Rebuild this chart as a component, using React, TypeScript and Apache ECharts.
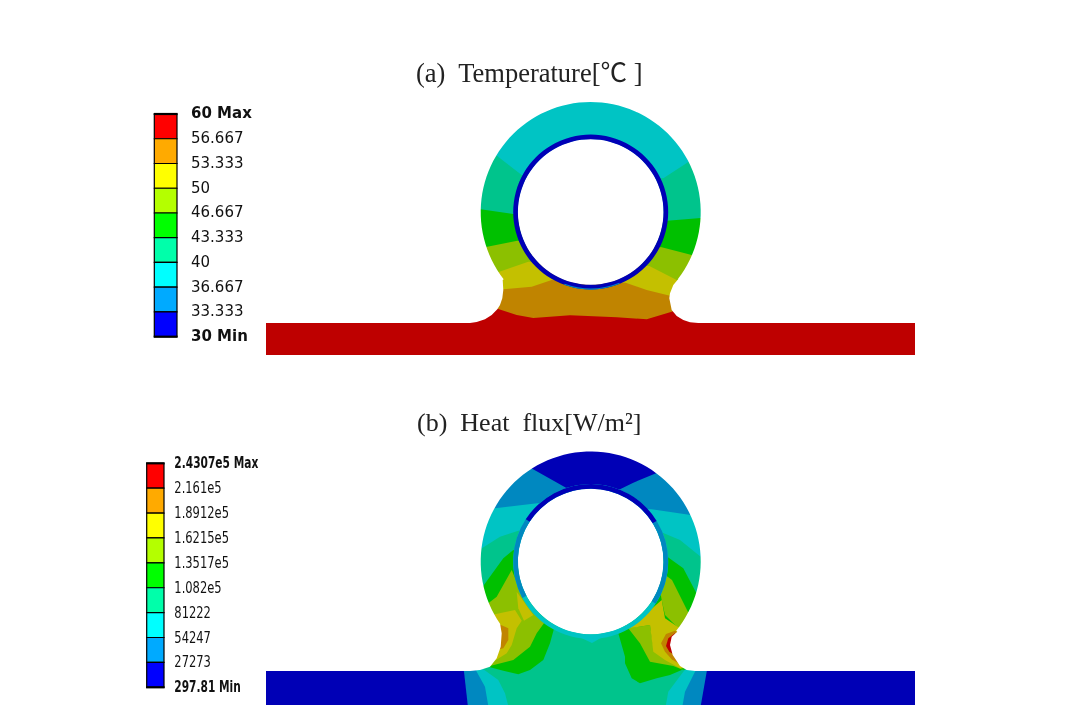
import React, { useEffect, useRef } from "react";
import * as echarts from "echarts";

type P = [number, number];

const contourPalette = ["#0000B6", "#0088C0", "#00C4C4", "#00C48C", "#00C000", "#8CC000", "#C4C000", "#C08400", "#BE0000"];
const legendPalette = ["#FF0000", "#FFAA00", "#FFFF00", "#B4FF00", "#00FF00", "#00FFAA", "#00FFFF", "#00AAFF", "#0000FF"];
const NAVY = 0, BLUE = 1, CYAN = 2, SEA = 3, GREEN = 4, LIME = 5, YEL = 6, ORG = 7, RED = 8;

const tempTicks = ["60 Max", "56.667", "53.333", "50", "46.667", "43.333", "40", "36.667", "33.333", "30 Min"];
const fluxTicks = ["2.4307e5 Max", "2.161e5", "1.8912e5", "1.6215e5", "1.3517e5", "1.082e5", "81222", "54247", "27273", "297.81 Min"];

// ---- panel (a): upper edge of every temperature band
const tCyanEdge: P[] = [[470, 135], [521.7, 175], [663.3, 178.3], [713, 146]];
const tSeaEdge: P[] = [[470, 208], [480.7, 209.3], [513.3, 214], [667.3, 220.7], [700.7, 218], [711, 217]];
const tGreenEdge: P[] = [[470, 250], [487.3, 246.7], [517.3, 240.7], [661.7, 247.3], [691.7, 255], [710, 260]];
const tLimeEdge: P[] = [[480, 278], [499.3, 271.7], [528.3, 261.7], [649.3, 266], [676.7, 280], [695, 290]];
const tYellowEdge: P[] = [[480, 291], [503.3, 289.3], [531.7, 286.7], [551.7, 280], [625.7, 282.7], [646.7, 290], [670, 295.7], [690, 300]];
const tRedEdge: P[] = [[262, 300], [480, 300], [498.3, 309], [516.7, 315], [533.3, 318], [570, 315.3], [616.7, 317.3], [646.7, 319.3], [671.7, 311.7], [700, 300], [918, 300]];

const aCentre: P = [590.7, 212];
const aRightNeck: P[] = [[698.3, 323], [690, 322.3], [683.3, 320], [676.7, 316], [671.7, 310], [669.3, 298.3], [670, 293.3], [673.3, 285], [678.3, 279]];
const aLeftNeck: P[] = [[502.7, 280], [503.3, 290], [502.3, 298.3], [500, 305], [497.3, 309.3], [491.7, 315], [485, 319.3], [476.7, 322], [470, 323]];

// ---- panel (b): heat-flux regions
const bCentre: P = [590.7, 561.5];
const fCyanEdge: P[] = [[470, 511], [495, 508.3], [537.3, 503.3], [651.7, 509.3], [690.7, 515], [712, 518]];
const fSeaEdge: P[] = [[470, 556], [480.7, 549], [500, 536.7], [518.3, 530.7], [662.7, 532.7], [680, 540], [700.7, 556.7], [712, 566]];
const fCap: P[] = [[516.7, 460], [566, 487.7], [620, 489.3], [633.3, 482.7], [656, 473.3], [670, 465], [640, 445], [540, 445]];
const fLeftCyan: P[] = [[262, 660], [480, 666], [483.3, 669.3], [498.3, 680], [505, 693.3], [509.3, 710], [262, 710]];
const fLeftBlue: P[] = [[262, 660], [474, 664], [476.7, 671.7], [485, 686.7], [489, 710], [262, 710]];
const fLeftNavy: P[] = [[262, 660], [462, 664], [464, 671.7], [468.3, 710], [262, 710]];
const fRightCyan: P[] = [[918, 660], [690, 664], [683.3, 671.7], [668.3, 691.7], [665, 710], [918, 710]];
const fRightBlue: P[] = [[918, 660], [698, 664], [695, 671.7], [685, 691.7], [681.7, 710], [918, 710]];
const fRightNavy: P[] = [[918, 660], [708, 664], [706.7, 671.7], [700, 710], [918, 710]];
const fLeftGreen: P[] = [[476.7, 595], [503.3, 558.3], [513.3, 550], [526.7, 560], [560, 620], [555, 625], [550, 643.3], [543.3, 660], [530, 670], [518.3, 674.3], [503.3, 670.7], [488.3, 666.7], [476.7, 660]];
const fLeftLime: P[] = [[511.7, 570], [520, 590], [545, 621.7], [536.7, 633.3], [530, 646.7], [513.3, 660], [490, 666], [483.3, 668.3], [480, 640], [483.3, 610], [488.3, 603.3], [496.7, 596.7]];
const fLeftYellow: P[] = [[486.7, 616.7], [496, 614], [515, 610], [521.7, 620.7], [516.7, 628.3], [511.7, 645], [506.7, 653.3], [493.3, 661.7], [486.7, 666.7], [480, 640]];
const fLeftPatch: P[] = [[516.7, 591.7], [533.3, 615], [524, 620.7], [518.3, 608.3]];
const fLeftOrange: P[] = [[499.3, 624.3], [508.3, 628.3], [508.3, 640], [503.3, 648.3], [496.7, 650], [495, 626.7]];
const fRightGreen: P[] = [[656, 550], [667.3, 556.7], [683.3, 568.3], [698.3, 596.7], [710, 615], [710, 665], [681.7, 670], [670, 675], [656.7, 678.3], [640, 683.3], [631.7, 678.3], [625, 663.3], [625, 656.7], [618.3, 633.3], [630, 620]];
const fRightLime: P[] = [[664, 574], [672, 580], [688, 612], [700, 620], [680, 632], [678.3, 628.3], [665, 615], [661.7, 600], [660, 590]];
const fRightLimeLow: P[] = [[628.3, 628.3], [650, 625], [653.3, 646.7], [666.7, 656.7], [683.3, 670], [673.3, 666], [650, 661.7], [640, 643.3]];
const fRightYellow: P[] = [[629.3, 628.3], [661.7, 600], [665, 618.3], [678.3, 627.3], [700, 630], [700, 668], [680, 668.3], [665, 660], [653.3, 651.7], [650, 625]];
const fRightOrange: P[] = [[661, 643.3], [666, 634], [675, 630.7], [680, 633.3], [678.3, 663.3], [671.7, 659.3], [665, 651.7]];
const fRightRed: P[] = [[666, 646], [668.3, 638.3], [675, 633.3], [675, 655], [669.3, 651.7]];
const fNotch: P[] = [[575, 635], [592, 643], [606, 635]];
const bRightNeck: P[] = [[695, 671], [686.7, 670], [680, 666], [672.7, 655], [670, 645], [671.7, 636.7], [677.3, 631.7]];
const bLeftNeck: P[] = [[500, 623.3], [501.7, 633.3], [500.7, 646.7], [496.7, 658.3], [490, 666.7], [480, 670], [470, 671]];

// ---- ring pieces: [colour level, from degree, to degree]
const aRing: [number, number, number][] = [[NAVY, 0, 360]];
const bRing: [number, number, number][] = [[CYAN, 0, 360], [BLUE, 147, 208], [BLUE, -33, 31.6], [NAVY, 31.6, 147]];

const arcPts = (c: P, r: number, a0: number, a1: number): P[] => {
  const out: P[] = [];
  const n = Math.ceil(Math.abs(a1 - a0) / 3);
  for (let i = 0; i <= n; i++) {
    const a = ((a0 + ((a1 - a0) * i) / n) * Math.PI) / 180;
    out.push([c[0] + r * Math.cos(a), c[1] - r * Math.sin(a)]);
  }
  return out;
};

const below = (edge: P[], bottom: number): P[] => [...edge, [edge[edge.length - 1][0], bottom], [edge[0][0], bottom]];

const mask = (top: number, plateTop: number, plateBottom: number, c: P, a0: number, a1: number, right: P[], left: P[]): P[] => {
  const low = plateBottom + 9;
  return [
    [260, top], [920, top], [920, low], [590, low], [590, plateBottom],
    [915, plateBottom], [915, plateTop], ...right, ...arcPts(c, 110, a0, a1), ...left,
    [266, plateTop], [266, plateBottom], [590, plateBottom], [590, low], [260, low],
  ];
};

type Mark =
  | { kind: "poly"; fill: string; pts: P[] }
  | { kind: "disc"; fill: string; c: P; r: number }
  | { kind: "arc"; fill: string; c: P; r0: number; r: number; a0: number; a1: number };

const poly = (level: number, pts: P[]): Mark => ({ kind: "poly", fill: contourPalette[level], pts });

const ringMarks = (c: P, ring: [number, number, number][]): Mark[] => [
  { kind: "disc", fill: "#FFFFFF", c, r: 73 },
  ...ring.map(([l, a0, a1]): Mark => ({ kind: "arc", fill: contourPalette[l], c, r0: 72.8, r: 77.5, a0, a1 })),
];

const marks: Mark[] = [
  poly(CYAN, [[470, 95], [715, 95], [715, 358], [470, 358]]),
  poly(SEA, below(tCyanEdge, 358)),
  poly(GREEN, below(tSeaEdge, 358)),
  poly(LIME, below(tGreenEdge, 358)),
  poly(YEL, below(tLimeEdge, 358)),
  poly(ORG, below(tYellowEdge, 358)),
  poly(RED, below(tRedEdge, 358)),
  { kind: "poly", fill: "#FFFFFF", pts: mask(95, 323, 355, aCentre, -37.4, 217.7, aRightNeck, aLeftNeck) },
  ...ringMarks(aCentre, aRing),
  { kind: "arc", fill: contourPalette[BLUE], c: aCentre, r0: 76.3, r: 77.5, a0: 250, a1: 292 },

  poly(BLUE, [[470, 445], [715, 445], [715, 600], [470, 600]]),
  poly(CYAN, below(fCyanEdge, 710)),
  poly(SEA, below(fSeaEdge, 710)),
  poly(CYAN, fLeftCyan), poly(BLUE, fLeftBlue), poly(NAVY, fLeftNavy),
  poly(CYAN, fRightCyan), poly(BLUE, fRightBlue), poly(NAVY, fRightNavy),
  poly(NAVY, fCap),
  poly(GREEN, fLeftGreen), poly(LIME, fLeftLime), poly(YEL, fLeftYellow), poly(YEL, fLeftPatch), poly(ORG, fLeftOrange),
  poly(GREEN, fRightGreen), poly(LIME, fRightLime), poly(LIME, fRightLimeLow), poly(YEL, fRightYellow), poly(ORG, fRightOrange), poly(RED, fRightRed),
  poly(CYAN, fNotch),
  { kind: "poly", fill: "#FFFFFF", pts: mask(445, 671, 705, bCentre, -39, 214.5, bRightNeck, bLeftNeck) },
  ...ringMarks(bCentre, bRing),
];

const legends = [
  { x0: 154.3, x1: 177, top: 114, bottom: 336.7, textX: 191, labels: tempTicks, scaleX: 1, boldScaleX: 1, size: 15 },
  { x0: 146.7, x1: 164, top: 463.3, bottom: 687.3, textX: 174.3, labels: fluxTicks, scaleX: 0.72, boldScaleX: 0.665, size: 16 },
];

const serif = "'Liberation Serif','Noto Sans CJK KR',serif";

export default function App() {
  const ref = useRef<HTMLDivElement>(null);
  useEffect(() => {
    if (!ref.current) return;
    const chart = echarts.init(ref.current, undefined, { renderer: "svg" });
    const legendItems: { legend: number; i: number }[] = [];
    legends.forEach((l, li) => l.labels.forEach((_, i) => legendItems.push({ legend: li, i })));
    chart.setOption({
      animation: false,
      title: [
        { text: "(a)  Temperature[℃ ]", left: 411, top: 55, textStyle: { fontFamily: serif, fontWeight: "normal", fontSize: 26.5, color: "#222222" } },
        { text: "(b)  Heat  flux[W/m²]", left: 412, top: 404, textStyle: { fontFamily: serif, fontWeight: "normal", fontSize: 26, color: "#222222" } },
      ],
      grid: { left: 0, right: 0, top: 0, bottom: 0 },
      xAxis: { type: "value", min: 0, max: 1073, show: false },
      yAxis: { type: "value", min: 0, max: 716, inverse: true, show: false },
      series: [
        {
          type: "custom",
          silent: true,
          clip: false,
          data: marks.map((_, i) => [0, 0, i]),
          renderItem: (_: any, api: any) => {
            const m = marks[api.value(2)];
            if (m.kind === "poly") {
              return { type: "polygon", shape: { points: m.pts.map((p) => api.coord(p)) }, style: { fill: m.fill } };
            }
            const c = api.coord(m.c);
            const r = api.size([m.r, m.r])[0];
            if (m.kind === "disc") {
              return { type: "circle", shape: { cx: c[0], cy: c[1], r }, style: { fill: m.fill } };
            }
            return {
              type: "sector",
              shape: { cx: c[0], cy: c[1], r, r0: api.size([m.r0, m.r0])[0], startAngle: (-m.a1 * Math.PI) / 180, endAngle: (-m.a0 * Math.PI) / 180, clockwise: true },
              style: { fill: m.fill },
            };
          },
        },
        {
          type: "custom",
          silent: true,
          clip: false,
          data: legendItems.map((d) => [0, 0, d.legend, d.i]),
          renderItem: (_: any, api: any) => {
            const l = legends[api.value(2)];
            const i = api.value(3);
            const step = (l.bottom - l.top) / (l.labels.length - 1);
            const y = l.top + i * step;
            const [tx, ty] = api.coord([l.textX, y - 0.7]);
            const bold = i === 0 || i === l.labels.length - 1;
            const children: any[] = [
              {
                type: "text",
                x: tx,
                y: ty,
                scaleX: bold ? l.boldScaleX : l.scaleX,
                style: {
                  text: l.labels[i],
                  x: 0,
                  y: 0,
                  fill: "#111111",
                  font: `${bold ? "bold " : ""}${l.size}px 'DejaVu Sans'`,
                  textAlign: "left",
                  textVerticalAlign: "middle",
                },
              },
            ];
            if (i < l.labels.length - 1) {
              const a = api.coord([l.x0, y]);
              const b = api.coord([l.x1, y + step]);
              children.unshift({
                type: "rect",
                shape: { x: a[0], y: a[1], width: b[0] - a[0], height: b[1] - a[1] },
                style: { fill: legendPalette[i], stroke: "#000000", lineWidth: 1.2 },
              });
            }
            if (bold) {
              const a = api.coord([l.x0, y]);
              const b = api.coord([l.x1, y]);
              children.push({ type: "line", shape: { x1: a[0] - 0.6, y1: a[1], x2: b[0] + 0.6, y2: b[1] }, style: { stroke: "#000000", lineWidth: 2.2 } });
            }
            return { type: "group", children };
          },
        },
      ],
    });
    return () => chart.dispose();
  }, []);
  return <div ref={ref} style={{ position: "fixed", left: 0, top: 0, width: 1073, height: 716 }} />;
}
